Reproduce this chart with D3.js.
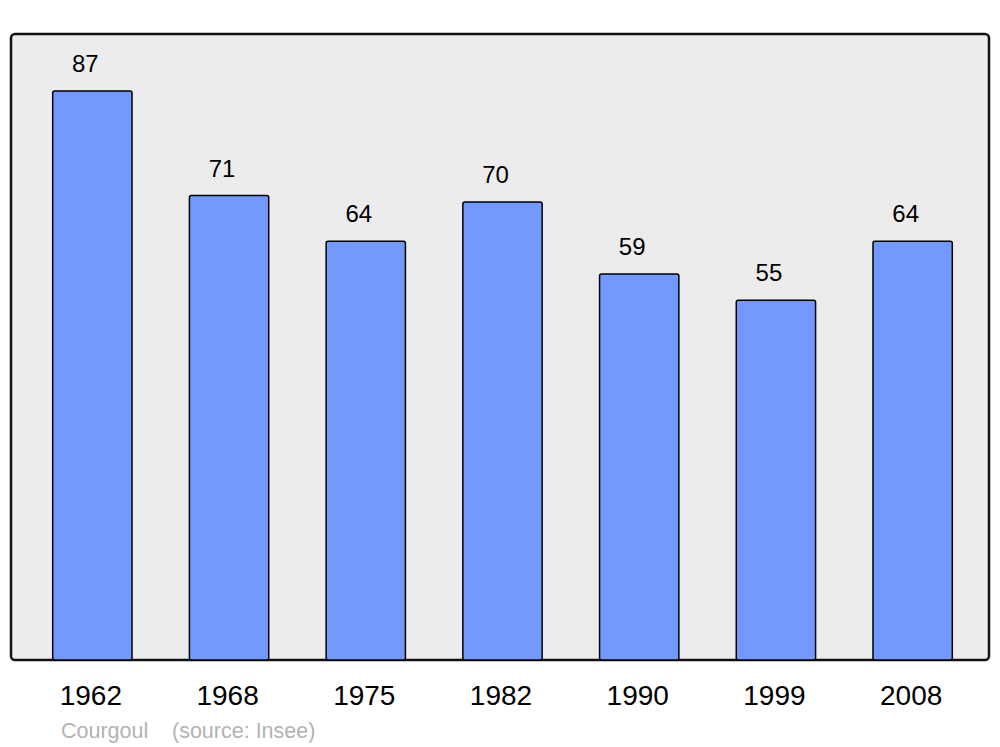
<!DOCTYPE html>
<html><head><meta charset="utf-8">
<script src="https://cdn.jsdelivr.net/npm/d3@7"></script>
<style>body{margin:0;background:#fff}svg{display:block;font-family:"Liberation Sans",Arial,sans-serif}</style>
</head><body>
<svg id="c" width="1000" height="747"></svg>
<script>
const years = ["1962","1968","1975","1982","1990","1999","2008"];
const population = [87, 71, 64, 70, 59, 55, 64];
const commune = "Courgoul";
const sourceText = "(source: Insee)";

const svg = d3.select("#c");
const panel = {x0: 11, y0: 34, x1: 989, y1: 660};

svg.append("rect")
  .attr("x", panel.x0).attr("y", panel.y0)
  .attr("width", panel.x1 - panel.x0).attr("height", panel.y1 - panel.y0)
  .attr("rx", 4).attr("fill", "#ececec").attr("stroke", "#111").attr("stroke-width", 2.5);

const x = d3.scaleBand().domain(years).range([24, 981]).paddingInner(0.42).paddingOuter(0.21);
const y = d3.scaleLinear().domain([0, d3.max(population) * 1.1]).range([panel.y1, panel.y0]);

const data = years.map((yr, i) => ({yr, v: population[i]}));

svg.append("g").selectAll("rect").data(data).join("rect")
  .attr("x", d => x(d.yr))
  .attr("y", d => y(d.v))
  .attr("width", x.bandwidth())
  .attr("height", d => y(0) - y(d.v))
  .attr("rx", 2)
  .attr("fill", "#7399ff").attr("stroke", "#000").attr("stroke-width", 1.5);

svg.append("g").selectAll("text").data(data).join("text")
  .attr("x", d => x(d.yr) + x.bandwidth() / 2 - 7)
  .attr("y", d => y(d.v) - 19)
  .attr("text-anchor", "middle").attr("font-size", 24).attr("fill", "#000")
  .text(d => d.v);

const axis = d3.axisBottom(x).tickSize(0).tickPadding(0);
const ag = svg.append("g").attr("transform", `translate(0,${panel.y1})`).call(axis);
ag.select(".domain").remove();
ag.selectAll("text").attr("font-size", 28).attr("font-family", "Liberation Sans, Arial, sans-serif")
  .attr("fill", "#000").attr("dy", null).attr("y", 45).attr("dx", -1.5);

svg.append("text").attr("x", 61).attr("y", 738).attr("font-size", 21.5).attr("fill", "#b3b3b3")
  .text(commune);
svg.append("text").attr("x", 172).attr("y", 738).attr("font-size", 21.5).attr("fill", "#b3b3b3")
  .text(sourceText);
</script>
</body></html>
